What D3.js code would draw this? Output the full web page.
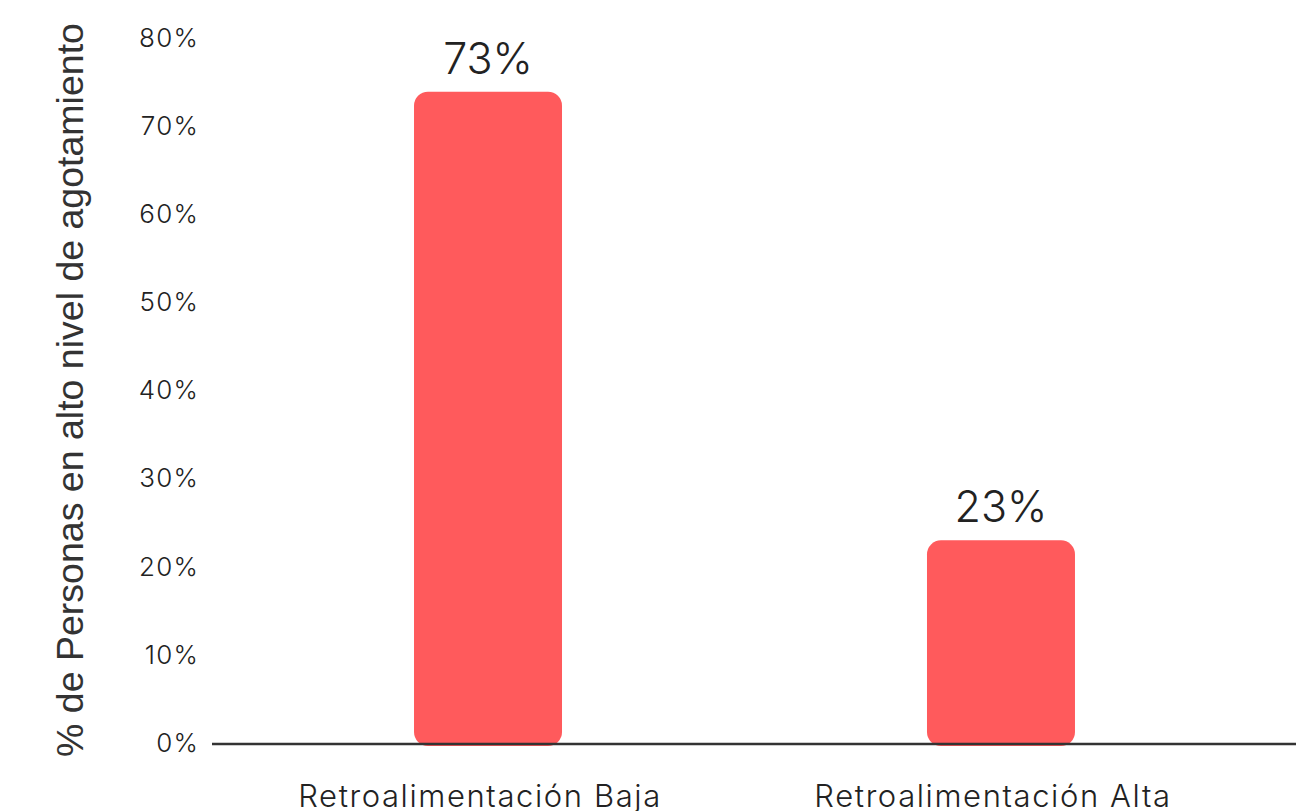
<!DOCTYPE html>
<meta charset="utf-8">
<style>
  body { margin: 0; background: #fff; }
  svg { display: block; }
  .tick text { font-family: Inter, sans-serif; font-weight: 300; fill: #222; }
</style>
<body>
<svg width="1296" height="811"></svg>
<script src="https://cdn.jsdelivr.net/npm/d3@7"></script>
<script>

// data
var categories = ["Retroalimentación Baja", "Retroalimentación Alta"];
var values = [73.9, 23.0];
var valueLabels = ["73%", "23%"];
var yTicks = [0, 10, 20, 30, 40, 50, 60, 70, 80];

var svg = d3.select("svg");

var y = d3.scaleLinear().domain([0, 80]).range([743, 38]);

var x = d3.scaleBand()
    .domain(categories)
    .range([231.5, 1257.5])
    .paddingInner(0.7115)
    .paddingOuter(0.3558);

// y axis tick labels, no line
var yAxis = svg.append("g")
    .attr("transform", "translate(199,0)")
    .call(d3.axisLeft(y).tickValues(yTicks).tickSize(0).tickPadding(0)
      .tickFormat(function(d) { return d + "%"; }));
yAxis.select(".domain").remove();
yAxis.selectAll("text")
    .attr("font-size", 26)
    .attr("letter-spacing", 1.2)
    .attr("dy", "0.32em");

// bars, rounded on every corner
svg.append("g")
  .selectAll("rect")
  .data(values)
  .enter().append("rect")
    .attr("x", function(d, i) { return x(categories[i]); })
    .attr("y", function(d) { return y(d); })
    .attr("width", x.bandwidth())
    .attr("height", function(d) { return y(0) + 3 - y(d); })
    .attr("rx", 14)
    .attr("fill", "#ff5a5c");

// baseline
svg.append("line")
    .attr("x1", 212).attr("x2", 1296)
    .attr("y1", y(0) + 1).attr("y2", y(0) + 1)
    .attr("stroke", "#333")
    .attr("stroke-width", 2.5);

// value labels
svg.append("g")
  .selectAll("text")
  .data(values)
  .enter().append("text")
    .attr("x", function(d, i) { return x(categories[i]) + x.bandwidth() / 2; })
    .attr("y", function(d) { return y(d) - 18; })
    .attr("text-anchor", "middle")
    .attr("font-family", "Inter, sans-serif")
    .attr("font-weight", 300)
    .attr("font-size", 43)
    .attr("fill", "#222")
    .text(function(d, i) { return valueLabels[i]; });

// category labels
svg.append("g")
  .selectAll("text")
  .data(categories)
  .enter().append("text")
    .attr("x", function(d) { return x(d) + x.bandwidth() / 2 - 8; })
    .attr("y", 807)
    .attr("text-anchor", "middle")
    .attr("font-family", "Inter, sans-serif")
    .attr("font-weight", 300)
    .attr("font-size", 31)
    .attr("letter-spacing", 1.6)
    .attr("fill", "#222")
    .text(function(d) { return d; });

// y axis title
svg.append("text")
    .attr("transform", "translate(83,390) rotate(-90)")
    .attr("text-anchor", "middle")
    .attr("font-family", "'Liberation Sans', Arial, sans-serif")
    .attr("font-size", 37.5)
    .attr("fill", "#333")
    .text("% de Personas en alto nivel de agotamiento");

</script>
</body>
